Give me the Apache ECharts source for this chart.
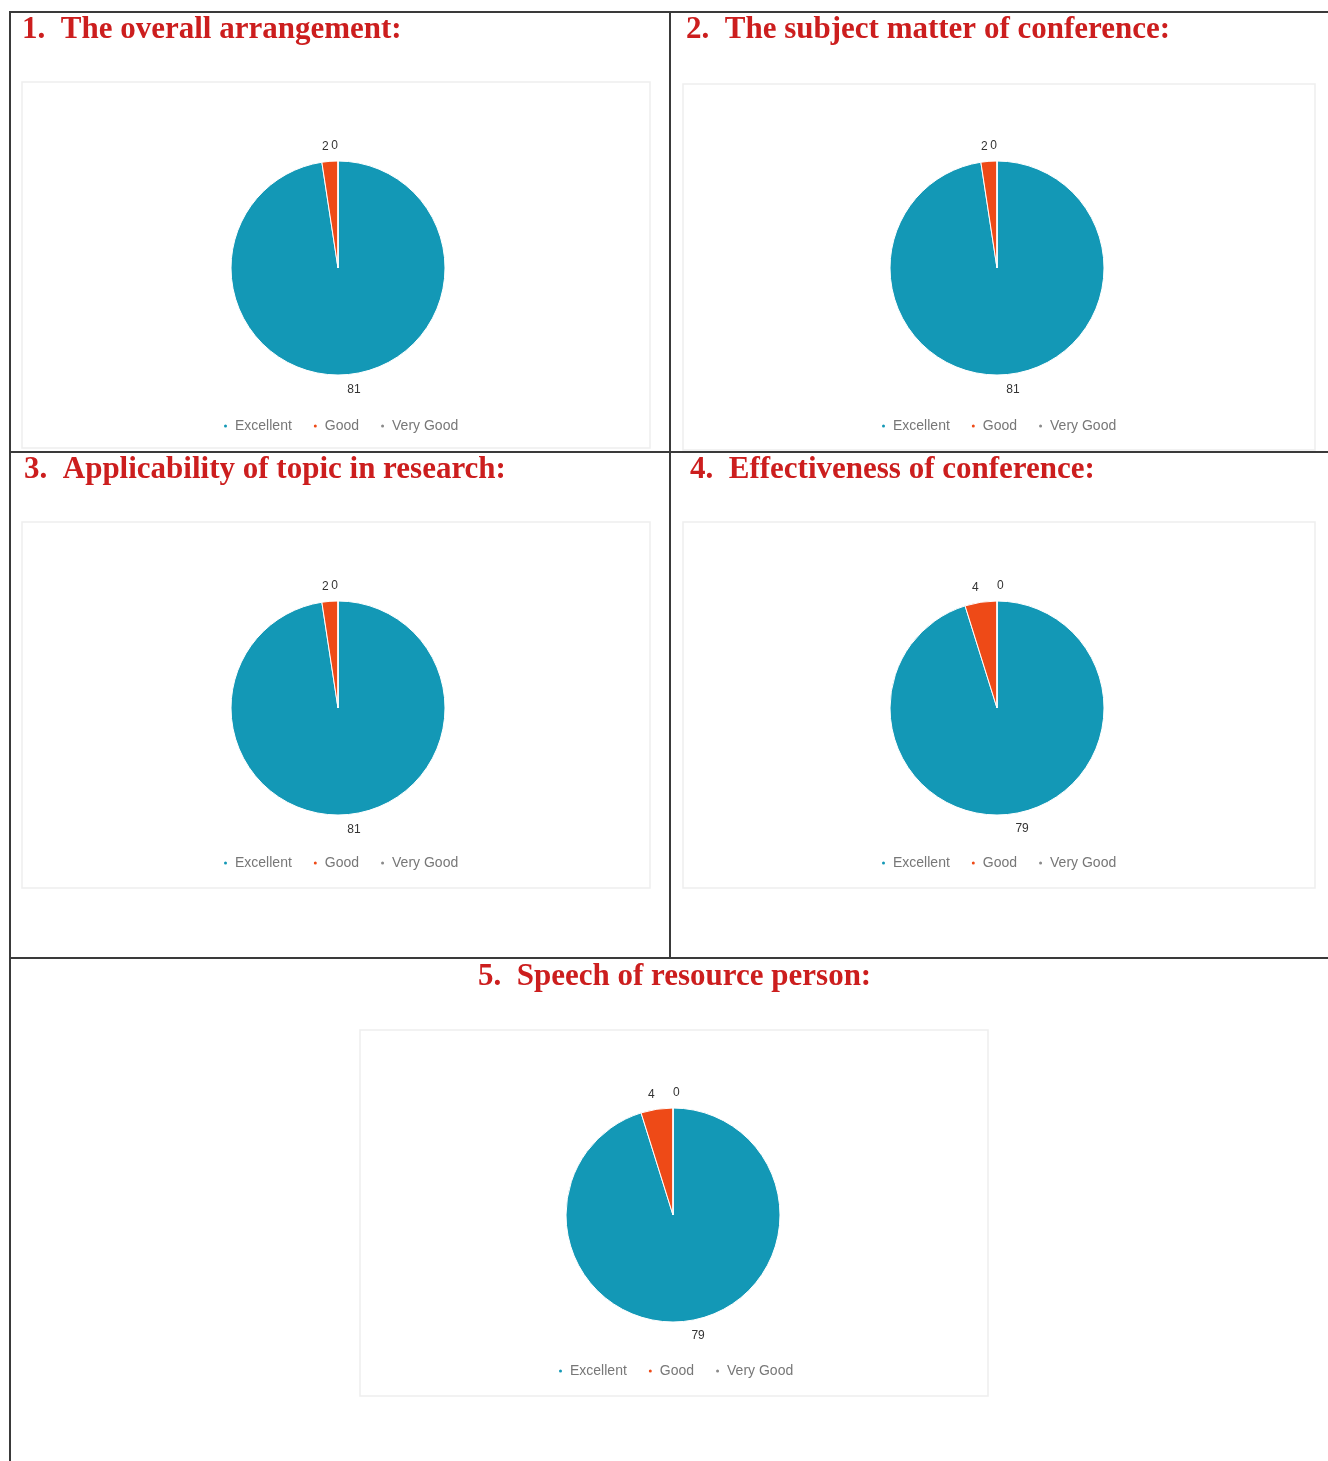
<!DOCTYPE html>
<html>
<head>
<meta charset="utf-8">
<title>Conference feedback</title>
<script src="https://cdn.jsdelivr.net/npm/echarts@6/dist/echarts.min.js"></script>
<style>
  html, body { margin: 0; padding: 0; background: #fff; }
  #main { width: 1328px; height: 1461px; }
</style>
</head>
<body>
<div id="main"></div>
<script>
// 数据
const ratings = ['Excellent', 'Good', 'Very Good']
const titles = [
  '1.  The overall arrangement:',
  '2.  The subject matter of conference:',
  '3.  Applicability of topic in research:',
  '4.  Effectiveness of conference:',
  '5.  Speech of resource person:'
]
const excellentValues = [81, 81, 81, 79, 79]
const goodValues = [2, 2, 2, 4, 4]
const veryGoodValues = [0, 0, 0, 0, 0]

// 每个格子的位置 (pie center, title pos, chart box, legend pos)
const panels = [
  { cx: 338, cy: 268, tx: 22, ty: 14, box: [22, 82, 628, 366], lx: 217, ly: 414 },
  { cx: 997, cy: 268, tx: 686, ty: 14, box: [683, 84, 632, 366], lx: 875, ly: 414 },
  { cx: 338, cy: 708, tx: 24, ty: 454, box: [22, 522, 628, 366], lx: 217, ly: 851 },
  { cx: 997, cy: 708, tx: 690, ty: 454, box: [683, 522, 632, 366], lx: 875, ly: 851 },
  { cx: 673, cy: 1215, tx: 478, ty: 961, box: [360, 1030, 628, 366], lx: 552, ly: 1359 }
]
const colors = ['#1398b6', '#ee4a17', '#8a8a8a']

const chart = echarts.init(document.getElementById('main'), null, { renderer: 'canvas' })

// 表格边框
const tableLines = [
  [9, 12, 1328, 12],
  [10, 12, 10, 1461],
  [670, 12, 670, 958],
  [10, 452, 1328, 452],
  [10, 958, 1328, 958]
]
const graphics = []
panels.forEach((p) => {
  graphics.push({
    type: 'rect',
    z: -1,
    shape: { x: p.box[0], y: p.box[1], width: p.box[2], height: p.box[3] },
    style: { fill: '#fff', stroke: '#eeeeee', lineWidth: 1.5 }
  })
})
tableLines.forEach((l) => {
  graphics.push({
    type: 'line',
    shape: { x1: l[0], y1: l[1], x2: l[2], y2: l[3] },
    style: { stroke: '#3a3a3a', lineWidth: 2 }
  })
})

const option = {
  color: colors,
  animation: false,
  title: titles.map((t, i) => ({
    text: t,
    left: panels[i].tx,
    top: panels[i].ty,
    padding: 0,
    textStyle: {
      fontFamily: 'Liberation Serif',
      fontWeight: 'bold',
      fontSize: 31,
      color: '#cc1e1e'
    }
  })),
  legend: panels.map((p) => ({
    data: ratings,
    left: p.lx,
    top: p.ly,
    icon: 'circle',
    itemWidth: 5,
    itemHeight: 5,
    itemGap: 20,
    textStyle: { fontFamily: 'Arial, Liberation Sans', fontSize: 14, color: '#777', padding: [0, 0, 0, 2] }
  })),
  graphic: graphics,
  series: panels.map((p, i) => ({
    type: 'pie',
    center: [p.cx, p.cy],
    radius: 107,
    startAngle: 90,
    clockwise: true,
    avoidLabelOverlap: false,
    itemStyle: { borderColor: '#fff', borderWidth: 1 },
    label: {
      show: true,
      position: 'outside',
      formatter: '{c}',
      fontFamily: 'Arial, Liberation Sans',
      fontSize: 12,
      color: '#333',
      distanceToLabelLine: 0
    },
    labelLine: { show: false, length: 15, length2: 0 },
    emphasis: { scale: false },
    data: [
      { name: ratings[0], value: excellentValues[i] },
      { name: ratings[1], value: goodValues[i] },
      { name: ratings[2], value: veryGoodValues[i] }
    ]
  }))
}

chart.setOption(option)
</script>
</body>
</html>
